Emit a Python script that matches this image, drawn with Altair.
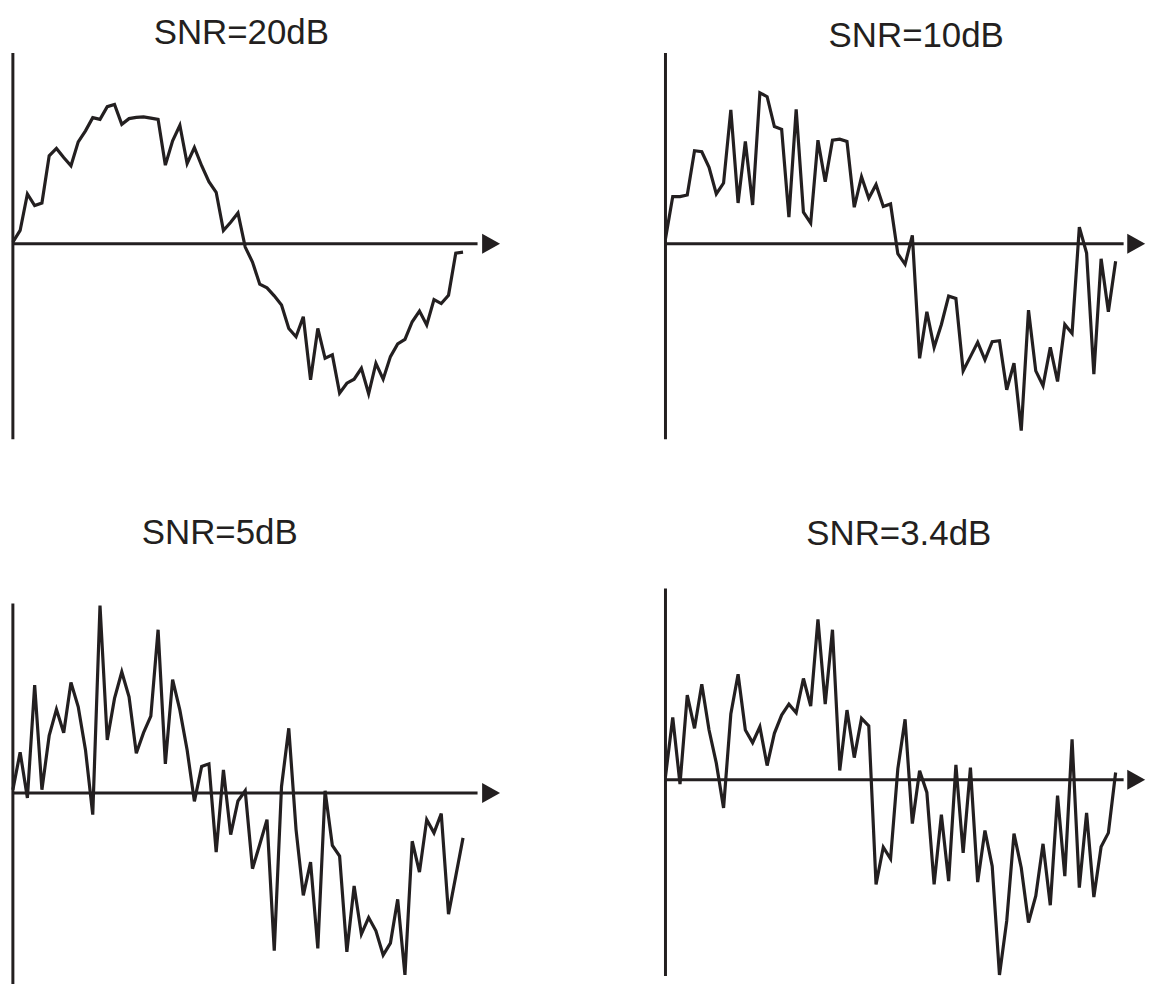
import altair as alt
import pandas as pd

# ---- data: sampled waveform values (same arbitrary amplitude unit in all panels) ----
titles = ["SNR=20dB", "SNR=10dB", "SNR=5dB", "SNR=3.4dB"]

snr20 = [1.7, 13.4, 50, 38.4, 41, 88.4, 95.7, 86.7, 78.4, 102.4,
         113.4, 126.7, 125, 137.7, 140, 120, 125.7, 126.9, 127.4, 126.2,
         125, 79, 103.4, 119, 80.7, 96.7, 78.4, 62.4, 51.7, 13.4,
         21.7, 31, -3.3, -18.3, -40.6, -44.3, -52.3, -61.6, -85, -93.3,
         -73.3, -136.6, -85, -115, -111.6, -150, -140, -136, -125, -150.6,
         -120, -136, -113.3, -100.6, -96, -78.3, -67.6, -81.6, -56, -60,
         -51.6, -9.3, -8.3]

snr10 = [5, 47.4, 47.4, 49, 93.4, 92.4, 76.7, 50, 61, 134.4,
         41, 102.7, 39, 151.7, 147.7, 117.7, 115, 26.7, 135, 31.7,
         20.7, 104, 62.4, 104, 105, 102.7, 36.7, 67.4, 45.7, 59.4,
         37.4, 40, -10, -20.6, 8.4, -115, -68.3, -104, -81, -52.6,
         -55, -127.6, -113.3, -99, -116.6, -98.3, -97.3, -146.6, -120, -187.6,
         -66.6, -127.6, -142.6, -104, -138.3, -81, -90, 16.7, -9.3, -131,
         -15, -68.3, -17.6]

snr5 = [3.3, 41, -5, 108.3, 3.3, 57.6, 84, 60.6, 111, 86.6,
        43.3, -21.7, 188.3, 53.3, 95, 121.6, 96.6, 40, 60.6, 77.3,
        164, 29.3, 114, 83.3, 43.3, -8.4, 26.6, 29.3, -59.4, 23.3,
        -41.7, -8, 2.3, -76, -51.7, -26.7, -158.4, 6.6, 65, -36.7,
        -102.7, -69.4, -156, 2.3, -52.7, -63.4, -159.4, -93.4, -141.7, -125,
        -138.4, -162.7, -150.7, -106.7, -182.7, -48.4, -79.4, -26.7, -40, -20.7,
        -121.7, -83.4, -45]

snr34 = [3.3, 62.7, -4.3, 85, 51.7, 96, 50, 16.7, -28.3, 66,
         106, 50, 37.3, 53.3, 14.3, 46.7, 65, 76, 67.3, 101.7,
         74, 161, 76, 150.7, 9.3, 70, 22.3, 61.7, 54, -105,
         -67.7, -79.3, 11, 60.7, -44, 9, -12.7, -105, -35, -101.7,
         15, -73.3, 12.3, -102.7, -51, -86.7, -196, -141.7, -54, -88.3,
         -143.3, -116.7, -64.3, -126, -16, -96.7, 40.7, -108.3, -33.3, -117.7,
         -67.3, -53.3, 7.3]

series = [snr20, snr10, snr5, snr34]

# scale extents per panel (data units) and axis extents
y_domains = [(-196.3, 191.7), (-196.3, 191.7), (-191.7, 205.3), (-205.0, 192.0)]
vaxis_ext = [(-196.3, 191.7), (-196.3, 191.7), (-191.7, 190.3), (-197.0, 192.0)]
x_domain = (0, 67.2)
x_axis_end = [64, 63.1, 64, 63.1]
x_arrow_tip = [67.1, 66.07, 67.1, 66.07]

heights = [388, 388, 397, 397]
title_offsets = [-27.4, -30.4, 9.4, 7.6]
title_dx = [-15.6, 6.8, -37.3, -10.7]

INK = "#231f20"
ARROW = "M-1.8,-1L0,0L-1.8,1Z"


def panel(i):
    vals = series[i]
    xs = alt.Scale(domain=list(x_domain), nice=False, zero=False)
    ys = alt.Scale(domain=list(y_domains[i]), nice=False, zero=False)

    df = pd.DataFrame({"n": list(range(len(vals))), "v": vals})
    vdf = pd.DataFrame({"x": [0], "y1": [vaxis_ext[i][0]], "y2": [vaxis_ext[i][1]]})
    hdf = pd.DataFrame({"x1": [0], "x2": [x_axis_end[i]], "y": [0]})
    adf = pd.DataFrame({"x": [x_arrow_tip[i]], "y": [0]})

    vline = alt.Chart(vdf).mark_rule(color=INK, strokeWidth=3).encode(
        x=alt.X("x:Q", scale=xs, axis=None),
        y=alt.Y("y1:Q", scale=ys, axis=None),
        y2="y2:Q",
    )
    hline = alt.Chart(hdf).mark_rule(color=INK, strokeWidth=3).encode(
        x=alt.X("x1:Q", scale=xs, axis=None),
        x2="x2:Q",
        y=alt.Y("y:Q", scale=ys, axis=None),
    )
    arrow = alt.Chart(adf).mark_point(
        shape=ARROW, filled=True, size=400, color=INK, opacity=1, strokeWidth=0
    ).encode(
        x=alt.X("x:Q", scale=xs, axis=None),
        y=alt.Y("y:Q", scale=ys, axis=None),
    )
    wave = alt.Chart(df).mark_line(color=INK, strokeWidth=3.2, strokeJoin="miter").encode(
        x=alt.X("n:Q", scale=xs, axis=None),
        y=alt.Y("v:Q", scale=ys, axis=None),
    )
    return alt.layer(vline, hline, arrow, wave).properties(
        width=490,
        height=heights[i],
        title=alt.TitleParams(
            text=titles[i],
            fontSize=35,
            font="Liberation Sans",
            fontWeight="normal",
            color=INK,
            anchor="middle",
            frame="group",
            baseline="alphabetic",
            offset=title_offsets[i],
            dx=title_dx[i],
        ),
    )


chart = alt.concat(
    *[panel(i) for i in range(4)],
    columns=2,
    spacing={"row": 150, "column": 165.4},
    bounds="flush",
    align="each",
).properties(
    padding={"left": -2.1, "top": 5, "right": -3, "bottom": 0}
).configure_view(stroke=None)

chart.save("out.html", embed_options={"renderer": "svg", "actions": False})
